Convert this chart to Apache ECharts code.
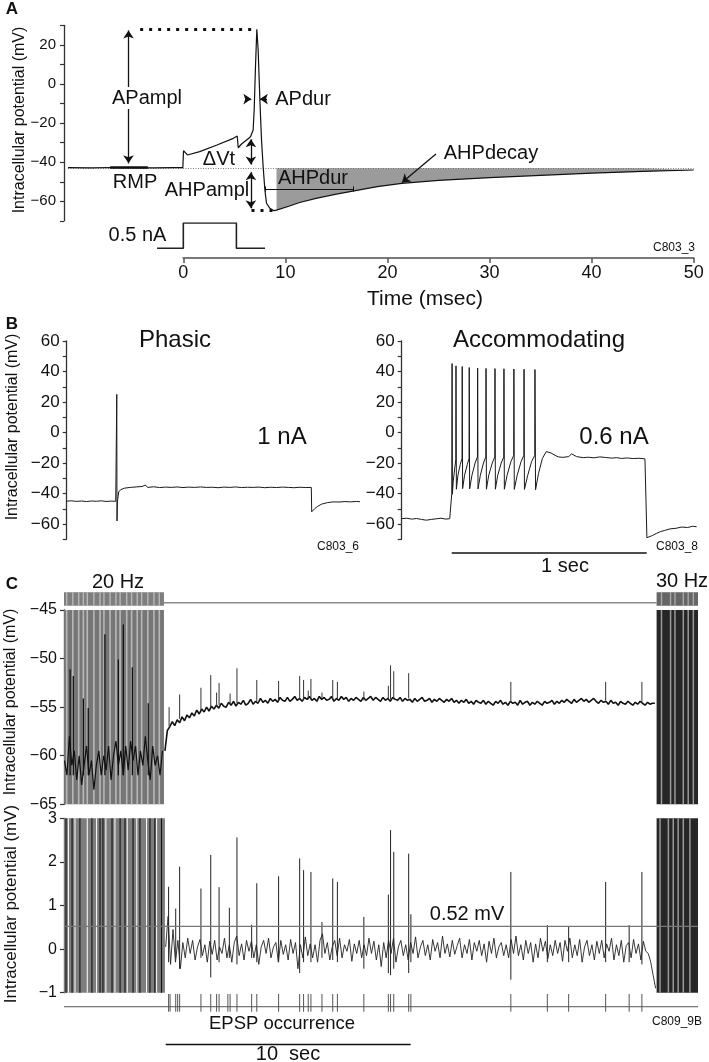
<!DOCTYPE html>
<html>
<head>
<meta charset="utf-8">
<script src="https://cdn.jsdelivr.net/npm/echarts@6.0.0/dist/echarts.min.js"></script>
<style>
html,body{margin:0;padding:0;background:#fff;}
#chart{width:709px;height:1062px;}
</style>
</head>
<body>
<div id="chart"></div>
<script>
// ===================== DATA =====================
// ---- Panel A: single action potential (time ms, potential mV) ----
const aTime = [-11.3,-9,-7,-5,-3,-1,-0.05,0.02,0.4,1.6,3.3,4.9,5.28,5.38,5.7,6.2,6.58,6.84,6.94,7.07,7.2,7.33,7.5,7.66,7.82,7.99,8.15,8.48,8.87,9.13,10.4,11.4,13,15,16.6,19,21.4,25,30,35,40,45,50];
const aVm = [-42.8,-42.9,-42.7,-42.8,-42.9,-42.8,-42.8,-34.1,-36.3,-34.6,-31.2,-27.8,-26.6,-32.6,-30.7,-28.6,-27,-23.5,-13.3,8.9,28,17.4,-8.2,-28.6,-42.3,-54.2,-61,-63.6,-64.8,-64.5,-62.4,-60.6,-58.5,-56.3,-54.8,-52.5,-50.8,-49.3,-47.9,-46.7,-45.6,-44.7,-44.0];
const aRestVm = -43.1;        // resting membrane potential (dotted baseline)
const aAhpStart = 9.13;       // start of shaded AHP area (ms)
const aStimTime = [-2.57, 0, 0, 5.2, 5.2, 8.0];
const aStimAmp = [0, 0, 0.5, 0.5, 0, 0];

// ---- Panel B: responses to current steps (time ms from step onset, mV) ----
const bPhasicTime = [-256,-230,-205,-180,-155,-130,-105,-80,-55,-30,-5,0,0.4,1.5,4,10,20,40,70,100,130,146,160,190,220,250,280,310,340,370,400,430,460,490,520,550,580,610,640,670,700,730,760,790,820,850,880,910,940,970,998,1000,1004,1015,1030,1050,1080,1110,1140,1170,1200,1230,1248];
const bPhasicVm = [-45.0,-44.8,-45.2,-44.9,-45.3,-44.9,-45.1,-44.8,-45.2,-45.0,-45.1,-45.0,25,-58,-45,-39,-37.5,-36.5,-36,-35.7,-35.4,-34.5,-36,-35.6,-36.1,-35.8,-36.0,-35.7,-36.1,-35.8,-36.0,-35.7,-36.0,-35.9,-36.2,-35.8,-36.0,-35.7,-36.1,-35.9,-36.0,-35.8,-36.2,-35.9,-36.1,-35.8,-36.0,-36.2,-35.9,-36.1,-36.0,-52,-51.5,-50,-48.5,-47,-46,-45.5,-45.6,-45.3,-45.5,-45.2,-45.4];
const bAccomTime = [-256,-230,-205,-180,-155,-130,-105,-80,-55,-30,-10,0,
  0.5,2,3.5,8,15,21,
  22,24,32,44,53,
  54,56,66,80,89,
  90,92,104,120,132,
  133,135,147,163,175,
  176,178,190,208,221,
  222,224,236,254,267,
  268,270,284,304,318,
  319,321,336,356,370,
  371,373,390,410,426,
  427,430,445,465,485,495,510,530,547,570,600,615,625,640,675,700,730,760,790,820,846,870,900,931,960,991,999,
  1001,1010,1030,1050,1070,1090,1120,1150,1180,1210,1235,1256];
const bAccomVm = [-56.5,-56.2,-56.8,-56.4,-57.0,-57.5,-57.0,-56.6,-56.2,-56.8,-56.5,-56.5,
  -40,45.2,-40.5,-32,-24,-18,
  43.7,-37.2,-28,-21,-17,
  43.3,-36.8,-28,-21,-17,
  42.6,-37,-28,-20,-16,
  42.2,-37,-28,-20,-16,
  42,-37.2,-28,-20,-16,
  41.9,-37.2,-28,-20,-16,
  41.8,-37.2,-28,-19,-15,
  41.6,-37.3,-28,-19,-15,
  41.5,-37.3,-28,-19,-15,
  41.3,-37.5,-27,-17,-12.5,-12,-13.5,-15,-16,-16.3,-15.8,-14,-13.8,-15.8,-16.5,-16.2,-16.6,-16,-16.4,-16.8,-16.5,-17,-16.7,-17.1,-16.9,-17.3,-17,
  -69,-68.5,-67.5,-66.2,-65,-64.3,-63.2,-62.8,-62,-62.3,-61.5,-61.8];
const bScaleBar = [0, 1000];   // 1 sec

// ---- Panel C: time in s from start of the 20 Hz train ----
const cTrainL = [0, 4.08];       // 20 Hz train
const cTrainR = [24.19, 25.88];  // 30 Hz train
const cScaleBar = [4.15, 14.15]; // 10 sec
const cThreshold = 0.52;         // mV
// upper trace (mV), sampled every 0.1 s from 4.12 s
const c1Start = 4.12, c1Step = 0.1;
const c1Vm = [-59.5,-57.4,-57.0,-56.5,-56.9,-56.3,-56.6,-56.0,-56.4,-55.8,
  -56.1,-55.6,-55.9,-55.3,-55.7,-55.2,-55.5,-55.0,-55.4,-54.9,
  -55.2,-54.8,-55.1,-54.6,-54.9,-55.0,-54.5,-54.8,-54.4,-54.9,
  -54.5,-54.7,-54.3,-54.8,-54.6,-54.2,-54.7,-54.4,-54.6,-54.1,
  -54.5,-54.3,-54.6,-54.1,-54.4,-54.2,-54.5,-54.0,-54.3,-54.4,
  -54.0,-54.4,-54.2,-53.9,-54.3,-54.1,-54.4,-54.0,-54.2,-53.9,
  -54.3,-54.1,-54.4,-53.9,-54.2,-54.0,-54.3,-54.2,-53.9,-54.4,
  -54.1,-54.3,-53.9,-54.2,-54.0,-54.4,-54.1,-54.3,-54.0,-54.2,
  -54.4,-54.0,-54.3,-54.1,-53.9,-54.3,-54.0,-54.2,-54.4,-54.0,
  -54.3,-54.1,-54.4,-54.0,-54.2,-54.3,-54.0,-54.4,-54.1,-54.3,
  -54.2,-54.5,-54.1,-54.4,-54.2,-54.0,-54.4,-54.3,-54.1,-54.5,
  -54.2,-54.4,-54.1,-54.3,-54.5,-54.2,-54.4,-54.1,-54.5,-54.3,
  -54.6,-54.3,-54.5,-54.2,-54.6,-54.4,-54.7,-54.3,-54.5,-54.6,
  -54.3,-54.7,-54.4,-54.6,-54.8,-54.4,-54.6,-54.3,-54.7,-54.5,
  -54.8,-54.4,-54.6,-54.5,-54.8,-54.3,-54.7,-54.5,-54.4,-54.8,
  -54.5,-54.7,-54.4,-54.6,-54.8,-54.4,-54.6,-54.5,-54.3,-54.7,
  -54.4,-54.6,-54.3,-54.5,-54.2,-54.4,-54.6,-54.2,-54.5,-54.3,
  -54.1,-54.4,-54.2,-54.5,-54.3,-54.1,-54.4,-54.6,-54.3,-54.5,
  -54.4,-54.7,-54.3,-54.6,-54.5,-54.8,-54.4,-54.6,-54.7,-54.4,
  -54.6,-54.8,-54.5,-54.7,-54.4,-54.6,-54.8,-54.5,-54.7,-54.6,
  -54.6];
const c1SpikeTime = [4.29,4.72,5.59,5.99,6.23,6.33,6.78,7.06,7.87,8.76,9.62,9.78,9.97,10.08,10.53,10.97,11.16,12.24,13.24,13.33,13.46,14.07,18.24,22.11,23.59];
const c1SpikeBase = [-57.0,-56.2,-55.3,-55.0,-54.9,-54.8,-54.7,-54.6,-54.4,-54.3,-54.2,-54.2,-54.2,-54.1,-54.1,-54.1,-54.1,-54.3,-54.2,-54.2,-54.2,-54.1,-54.5,-54.3,-54.5];
const c1SpikePeak = [-55.0,-53.7,-53.0,-51.7,-53.5,-52.5,-53.6,-51.0,-52.2,-52.3,-51.8,-52.2,-53.3,-52.1,-53.5,-52.2,-52.4,-53.4,-52.8,-50.7,-51.3,-51.5,-52.4,-52.4,-52.4];
// upper trace during the 20 Hz train (sampled every 0.1 s from 0.02 s)
const c1TrainStart = 0.02, c1TrainStep = 0.1;
const c1TrainVm = [-60.5,-62,-58,-61,-59.5,-62.5,-60,-63,-61,-59,-62,-60.5,-63.5,-61,-59.5,-62,-60,-61.5,-59,-62.5,
  -60,-58.5,-61,-59.5,-62,-59,-61.5,-58.5,-60.5,-59,-62,-59.5,-61,-58,-60.5,-62.5,-59,-61,-60,-62,-59.5];
const c1TrainSpikeTime = [0.25,0.38,0.79,0.99,1.67,2.22,2.42,2.79,3.44];
const c1TrainSpikeBase = [-62,-62,-62,-62,-62,-62,-62,-62,-62];
const c1TrainSpikePeak = [-51.1,-51.8,-54.1,-55.1,-47.5,-50.1,-46.5,-50.9,-54.6];
const c1TrainGapTime = [0.11,0.36,0.6,0.79,0.95,1.22,1.47,1.63,1.88,2.12,2.29,2.56,2.76,2.99,3.17,3.42,3.67,3.89];
const c1Train2GapTime = [24.39,24.76,24.94,25.28,25.48,25.69];
// lower trace (mV), sampled every 0.1 s from 4.15 s
const c2Start = 4.15, c2Step = 0.1;
const c2Vm = [0.05,0.75,-0.35,0.45,-0.3,0.2,-0.45,0.15,-0.2,0.25,-0.1,0.2,-0.25,0.05,0.22,-0.15,0.1,-0.3,0.18,-0.12,
  0.2,-0.25,0.05,-0.1,0.25,-0.2,0.1,-0.3,0.15,0.3,-0.15,0.12,-0.25,0.2,-0.05,0.18,-0.2,0.1,-0.35,0.05,
  0.2,-0.1,0.25,-0.2,0.05,0.15,-0.3,0.2,-0.12,0.1,-0.25,0.22,-0.1,0.15,-0.45,0.1,-0.2,0.28,-0.15,0.12,
  -0.2,0.1,-0.3,0.2,0.35,-0.1,0.15,-0.25,0.05,0.2,-0.15,0.25,-0.2,0.1,-0.05,0.22,-0.28,0.12,-0.1,0.2,
  -0.2,0.1,-0.15,0.25,-0.1,0.18,-0.25,0.1,-0.4,0.15,-0.2,0.2,-0.1,0.25,-0.3,0.05,0.2,-0.15,0.1,-0.25,
  0.15,-0.1,0.28,-0.2,0.05,0.2,-0.15,0.1,-0.25,0.22,-0.05,0.15,-0.2,0.3,-0.1,0.12,-0.18,0.2,-0.12,0.08,
  0.25,-0.2,0.1,-0.1,0.22,-0.25,0.15,-0.05,0.2,-0.15,0.12,-0.3,0.18,-0.1,0.25,-0.2,0.05,0.15,-0.15,0.1,
  -0.2,0.22,-0.1,0.3,-0.15,0.1,-0.25,0.2,-0.1,0.15,-0.3,0.12,-0.2,0.25,-0.05,0.18,-0.22,0.1,-0.15,0.2,
  -0.1,0.15,-0.28,0.2,-0.05,0.25,-0.2,0.1,-0.15,0.22,-0.3,0.05,0.2,-0.15,0.1,-0.25,0.18,-0.1,0.2,-0.2,
  0.12,-0.05,0.25,-0.25,0.1,-0.15,0.2,-0.3,0.08,0.15,-0.2,0.22,-0.1,0.12,-0.25,0.18,-0.05,-0.1,-0.3,-0.6,
  -0.9];
const c2SpikeTime = [4.27,4.56,4.72,5.59,5.99,6.33,6.75,7.06,7.66,7.87,8.76,9.62,9.78,10.08,10.53,10.97,11.16,12.24,13.24,13.33,13.46,14.07,14.16,18.24,19.73,20.6,22.11,23.07,23.59];
const c2SpikeLow = [-0.3,-0.2,-0.45,-0.2,-0.65,-0.3,-0.2,-0.35,-0.2,-0.3,-0.3,-0.55,-0.3,-0.3,-0.2,-0.25,-0.3,-0.45,-0.55,-0.6,-0.45,-0.55,-0.3,-0.7,-0.3,-0.3,-0.3,-0.3,-0.35];
const c2SpikePeak = [1.43,0.93,1.89,1.39,2.16,1.42,0.95,2.56,0.56,1.51,1.67,2.08,1.81,1.77,0.62,1.62,1.54,0.74,1.25,2.73,2.23,2.19,0.8,1.77,0.55,0.53,1.54,0.55,1.77];
const c2TrainGapTime = [0.18,0.45,0.95,1.33,1.71,2.08,2.58,2.97,3.37,3.78];
const c2TrainDarkTime = [0.08,0.33,0.65,1.14,1.47,1.59,1.96,2.29,2.49,2.82,3.1,3.51,3.71,3.98];
const c2Train2GapTime = [24.33,24.67,24.87,25.07,25.28,25.55];
// EPSP occurrence raster (s)
const epspTime = [4.27,4.33,4.56,4.64,4.72,5.59,5.99,6.23,6.33,6.69,6.78,7.06,7.66,7.87,8.76,9.62,9.78,9.97,10.08,10.53,10.97,11.16,12.24,13.24,13.33,13.46,14.07,14.16,18.24,19.73,20.6,22.11,23.07,23.59];

// axis tick values
const aTimeTicks = {min: 0, max: 50, interval: 10};
const aVmAxis = {min: -70, max: 30, interval: 10};
const bVmAxis = {min: -70, max: 60, interval: 10};
const c1VmAxis = {min: -65, max: -45, interval: 5};
const c2VmAxis = {min: -1, max: 3, interval: 1};

// ===================== HELPERS =====================
const FONT = '"Liberation Sans", Arial, Helvetica, sans-serif';
const minus = v => String(v).replace('-', '\u2212');
const zip = (xs, ys) => xs.map((x, i) => [x, ys[i]]);
const sampled = (t0, dt, vs) => vs.map((v, i) => [+(t0 + i * dt).toFixed(4), v]);
const vSegs = (ts, lo, hi) => {
  const d = [];
  ts.forEach((t, i) => {
    d.push([t, Array.isArray(lo) ? lo[i] : lo], [t, Array.isArray(hi) ? hi[i] : hi], [t, null]);
  });
  return d;
};
const base = {type: 'line', symbol: 'none', silent: true, animation: false, connectNulls: false};
const L = (xi, data, color, width, extra) => Object.assign({}, base, {
  xAxisIndex: xi, yAxisIndex: xi, data, lineStyle: {color, width}
}, extra || {});

const hiddenX = (gi, min, max) => ({type: 'value', gridIndex: gi, min, max, show: false});
const hiddenY = (gi, min, max) => ({type: 'value', gridIndex: gi, min, max, show: false});
const vmAxis = (gi, ax, fs, margin, every) => ({
  type: 'value', gridIndex: gi, min: ax.min, max: ax.max, interval: ax.interval,
  axisLine: {show: true, onZero: false, lineStyle: {color: '#333', width: 1.3}},
  axisTick: {show: true, length: 4, lineStyle: {color: '#333', width: 1.2}},
  axisLabel: {
    fontSize: fs, color: '#111', margin, fontFamily: FONT,
    formatter: v => (every ? (Math.round(v) % every === 0 ? minus(v) : '') : minus(v))
  },
  splitLine: {show: false}
});

// ===================== OPTION =====================
const grids = [
  {left: 64, top: 25.35, width: 629.7, height: 195.5},   // 0 A trace
  {left: 64, top: 223, width: 629.7, height: 25.3},      // 1 A stimulus
  {left: 183.3, top: 200, width: 510.4, height: 58},     // 2 A time axis
  {left: 66.7, top: 341, width: 293.3, height: 198.25},  // 3 B phasic
  {left: 401.7, top: 341, width: 295, height: 198.25},   // 4 B accommodating
  {left: 401.7, top: 546, width: 295, height: 14},       // 5 B 1 sec bar
  {left: 64, top: 592.3, width: 634, height: 13.4},      // 6 C stimulus raster
  {left: 64, top: 610, width: 634, height: 194.3},       // 7 C upper trace
  {left: 64, top: 818.3, width: 634, height: 174.4},     // 8 C lower trace
  {left: 64, top: 994, width: 634, height: 17.7},        // 9 C EPSP raster
  {left: 64, top: 1037, width: 634, height: 15}          // 10 C 10 sec bar
].map(g => Object.assign(g, {outerBoundsMode: 'none', containLabel: false}));

const xAxis = [
  hiddenX(0, -11.69, 50), hiddenX(1, -11.69, 50),
  {type: 'value', gridIndex: 2, min: aTimeTicks.min, max: aTimeTicks.max, interval: aTimeTicks.interval,
   axisLine: {onZero: false, lineStyle: {color: '#7a7a7a', width: 2}},
   axisTick: {length: 5, lineStyle: {color: '#555', width: 1.5}},
   axisLabel: {fontSize: 18, color: '#111', margin: 6, fontFamily: FONT},
   splitLine: {show: false}},
  hiddenX(3, -256.4, 1247.7), hiddenX(4, -256.4, 1256.4), hiddenX(5, -256.4, 1256.4),
  hiddenX(6, 0, 25.88), hiddenX(7, 0, 25.88), hiddenX(8, 0, 25.88), hiddenX(9, 0, 25.88), hiddenX(10, 0, 25.88)
];
const yAxis = [
  vmAxis(0, aVmAxis, 15, 8, 20),
  hiddenY(1, 0, 0.5),
  hiddenY(2, 0, 1),
  vmAxis(3, bVmAxis, 17, 7, 20),
  vmAxis(4, bVmAxis, 17, 7, 20),
  hiddenY(5, 0, 1),
  hiddenY(6, 0, 1),
  vmAxis(7, c1VmAxis, 16, 7, 0),
  vmAxis(8, c2VmAxis, 16, 7, 0),
  hiddenY(9, 0, 1),
  hiddenY(10, 0, 1)
];

const seg = (p1, p2, style, s1, s2) => [
  {coord: p1, symbol: s1 || 'none', lineStyle: Object.assign({color: '#111', width: 1.2, type: 'solid'}, style || {})},
  {coord: p2, symbol: s2 || 'none'}
];
const aMarks = {
  silent: true, animation: false, symbolSize: 8, label: {show: false}, emphasis: {disabled: true},
  data: [
    seg([-11.3, aRestVm], [50, aRestVm], {type: [1, 1.5], width: 0.8, color: '#555'}),
    seg([-4.23, 28], [7.2, 28], {type: [3, 6], width: 3}),
    seg([6.68, -64.8], [8.8, -64.8], {type: [3, 6], width: 3}),
    seg([-7.17, -42.7], [-3.48, -42.7], {width: 2.6}),
    seg([-5.37, 27.4], [-5.37, -40.6], {width: 1.3}, 'arrow', 'arrow'),
    seg([6.62, -28.3], [6.62, -41.2], {width: 1.3}, 'arrow', 'arrow'),
    seg([6.62, -45.1], [6.62, -63.6], {width: 1.3}, 'arrow', 'arrow'),
    seg([6.04, -7.7], [6.66, -7.7], {width: 1.3}, 'none', 'arrow'),
    seg([8.2, -7.7], [7.5, -7.7], {width: 1.3}, 'none', 'arrow'),
    seg([7.99, -53.7], [16.62, -53.7], {width: 1}),
    seg([16.62, -52.4], [16.62, -55.0], {width: 1}),
    seg([7.99, -52.4], [7.99, -55.0], {width: 1}),
    seg([24.75, -35.8], [21.42, -50.4], {width: 1.3, curveness: -0.35}, 'none', 'arrow')
  ]
};

const series = [
  // ---- A ----
  L(0, zip(aTime, aVm).filter(p => p[0] >= aAhpStart), '#9b9b9b', 0,
    {areaStyle: {color: '#9b9b9b', opacity: 1, origin: aRestVm}, z: 1}),
  L(0, zip(aTime, aVm), '#111', 1.2, {z: 5, markLine: aMarks}),
  L(1, zip(aStimTime, aStimAmp), '#222', 1.6),
  L(2, [], '#000', 1),
  // ---- B ----
  L(3, zip(bPhasicTime, bPhasicVm), '#1a1a1a', 1),
  L(4, zip(bAccomTime, bAccomVm), '#1a1a1a', 1),
  L(5, [[bScaleBar[0], 0.5], [bScaleBar[1], 0.5]], '#111', 1.5),
  // ---- C stimulus raster ----
  L(6, [[cTrainL[1], 0.22], [cTrainR[0], 0.22]], '#8a8a8a', 1.5, {z: 1,
    markArea: {silent: true, animation: false, data: [
      [{xAxis: cTrainL[0], itemStyle: {color: '#7e7e7e'}}, {xAxis: cTrainL[1]}],
      [{xAxis: cTrainR[0], itemStyle: {color: '#666666'}}, {xAxis: cTrainR[1]}]
    ]}
  }),
  L(6, vSegs(c1TrainGapTime, 0, 1), '#b8b8b8', 1.4, {z: 2}),
  L(6, vSegs(c1Train2GapTime, 0, 1), '#a8a8a8', 1.4, {z: 2}),
  // ---- C upper ----
  L(7, [[0.5, -65]], '#fff', 0, {z: 1,
    markArea: {silent: true, animation: false, data: [
      [{xAxis: cTrainL[0], itemStyle: {color: '#767676'}}, {xAxis: cTrainL[1]}],
      [{xAxis: cTrainR[0], itemStyle: {color: '#262626'}}, {xAxis: cTrainR[1]}]
    ]}
  }),
  L(7, vSegs(c1TrainGapTime, -65, -45), '#b8b8b8', 1.6, {z: 2}),
  L(7, vSegs(c1Train2GapTime, -65, -45), '#9a9a9a', 1.5, {z: 2}),
  L(7, sampled(c1TrainStart, c1TrainStep, c1TrainVm), '#111', 1.2, {z: 3}),
  L(7, vSegs(c1TrainSpikeTime, c1TrainSpikeBase, c1TrainSpikePeak), '#111', 1.3, {z: 3}),
  L(7, sampled(c1Start, c1Step, c1Vm), '#111', 1.6, {z: 4}),
  L(7, vSegs(c1SpikeTime, c1SpikeBase, c1SpikePeak), '#333', 1, {z: 4}),
  // ---- C lower ----
  L(8, [[0.5, -1]], '#fff', 0, {z: 1,
    markArea: {silent: true, animation: false, data: [
      [{xAxis: cTrainL[0], itemStyle: {color: '#7d7d7d'}}, {xAxis: cTrainL[1] + 0.04}],
      [{xAxis: cTrainR[0], itemStyle: {color: '#262626'}}, {xAxis: cTrainR[1]}]
    ]}
  }),
  L(8, vSegs(c2TrainGapTime, -1, 3), '#ffffff', 1, {z: 2}),
  L(8, vSegs(c2TrainDarkTime, -1, 3), '#111', 1.1, {z: 2}),
  L(8, vSegs(c2Train2GapTime, -1, 3), '#9a9a9a', 1.5, {z: 2}),
  L(8, sampled(c2Start, c2Step, c2Vm), '#222', 0.9, {z: 4}),
  L(8, vSegs(c2SpikeTime, c2SpikeLow, c2SpikePeak), '#222', 1, {z: 4}),
  L(8, [[0, cThreshold], [25.88, cThreshold]], '#777', 1.2, {z: 5}),
  // ---- C EPSP raster ----
  L(9, [[0, 0.28], [25.88, 0.28]], '#555', 1),
  L(9, vSegs(epspTime, 0, 1), '#555', 1),
  // ---- C 10 sec bar ----
  L(10, [[cScaleBar[0], 0.5], [cScaleBar[1], 0.5]], '#111', 1.5)
];

const T = (text, x, y, size, opt) => {
  opt = opt || {};
  const style = {text, fontSize: size, fontFamily: FONT, fontWeight: opt.bold ? 'bold' : 'normal',
            fill: '#111', align: 'center', verticalAlign: 'middle'};
  if (opt.bg) { style.backgroundColor = '#fff'; style.padding = [1, 2]; }
  return {type: 'text', x, y, rotation: opt.rot || 0, silent: true, z: 100, style};
};
const R = Math.PI / 2;
const graphic = [
  T('A', 12, 9, 17, {bold: true}),
  T('Intracellular potential (mV)', 20, 120, 16, {rot: R}),
  T('APampl', 147, 98, 20, {bg: true}),
  T('APdur', 303, 99, 20),
  T('\u0394Vt', 219, 159, 20),
  T('RMP', 135, 182, 20),
  T('AHPampl', 207, 190, 20),
  T('AHPdur', 313, 178, 20),
  T('AHPdecay', 491, 153, 20),
  T('0.5 nA', 137.5, 235, 20),
  T('C803_3', 674, 248, 12),
  T('Time (msec)', 425, 299, 21),
  T('B', 12, 324, 17, {bold: true}),
  T('Intracellular potential (mV)', 12.5, 427, 16, {rot: R}),
  T('Phasic', 175, 340, 24),
  T('1 nA', 282, 437, 24),
  T('C803_6', 338, 547, 12),
  T('Accommodating', 539, 340, 24),
  T('0.6 nA', 614, 437, 24),
  T('C803_8', 677, 547, 12),
  T('1 sec', 565, 566, 20),
  T('C', 12, 584, 17, {bold: true}),
  T('20 Hz', 118, 582, 20),
  T('30 Hz', 682, 581, 20),
  T('Intracellular potential (mV)', 11, 702, 16, {rot: R}),
  T('Intracellular potential (mV)', 11, 904, 17, {rot: R}),
  T('0.52 mV', 467, 914, 20),
  T('EPSP occurrence', 282, 1024, 18.5),
  T('10  sec', 288, 1054, 20),
  T('C809_9B', 677, 1022, 12)
];

const chart = echarts.init(document.getElementById('chart'), null, {renderer: 'canvas'});
chart.setOption({
  animation: false,
  backgroundColor: '#fff',
  textStyle: {fontFamily: FONT},
  grid: grids,
  xAxis,
  yAxis,
  series,
  graphic
});
</script>
</body>
</html>
